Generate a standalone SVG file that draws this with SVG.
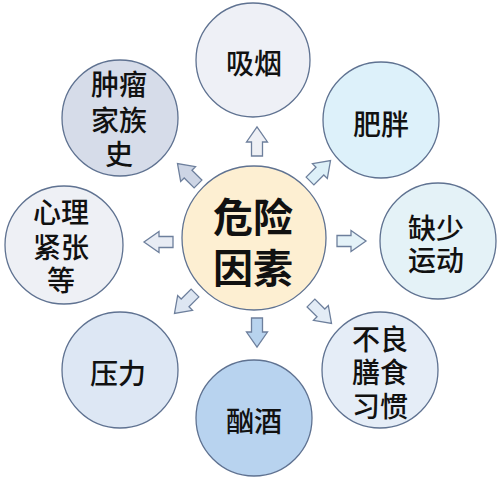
<svg xmlns="http://www.w3.org/2000/svg" width="500" height="481" viewBox="0 0 500 481">
<defs>
<style>
.n{stroke:#5f7291;stroke-width:1.3}
.a{stroke:#6d7f9c;stroke-width:1.3;stroke-linejoin:miter}
text{font-family:"Noto Sans CJK SC","Noto Sans",sans-serif;font-weight:500;fill:#111;text-anchor:middle;dominant-baseline:central;font-size:28px}
.c{font-size:40px;font-weight:600}
</style>
<path id="arr" d="M-5.5,0 L-5.5,-14 L-10.5,-14 L0,-29 L10.5,-14 L5.5,-14 L5.5,0 Z"/>
</defs>
<rect width="500" height="481" fill="#ffffff"/>
<g id="connectors">
<use href="#arr" class="a" fill="#eef0f5" transform="translate(257,156)"/>
<use href="#arr" class="a" fill="#cdd5e5" transform="translate(198,184) rotate(-45)"/>
<use href="#arr" class="a" fill="#ddf0f8" transform="translate(310,181) rotate(45)"/>
<use href="#arr" class="a" fill="#e8ecf4" transform="translate(173,242) rotate(-90)"/>
<use href="#arr" class="a" fill="#e4f2f8" transform="translate(337,241) rotate(90)"/>
<use href="#arr" class="a" fill="#dde6f2" transform="translate(195,293) rotate(-135)"/>
<use href="#arr" class="a" fill="#b8d3ee" transform="translate(257,318) rotate(180)"/>
<use href="#arr" class="a" fill="#e3ecf6" transform="translate(311,303) rotate(135)"/>
</g>
<g id="center">
<circle class="n" cx="254" cy="238" r="72" fill="#fdefd2"/>
<text class="c" x="253" y="215">危险<tspan x="253" y="266">因素</tspan></text>
</g>
<g id="smoking">
<circle class="n" cx="253" cy="60" r="57" fill="#eef0f6"/>
<text x="254" y="62">吸烟</text>
</g>
<g id="family">
<circle class="n" cx="120" cy="118" r="58" fill="#d6dce9"/>
<text x="119" y="83">肿瘤<tspan x="119" y="119">家族</tspan><tspan x="119" y="153">史</tspan></text>
</g>
<g id="obesity">
<circle class="n" cx="381" cy="120" r="58" fill="#ddf1fa"/>
<text x="381" y="123">肥胖</text>
</g>
<g id="psych">
<circle class="n" cx="64" cy="245" r="59" fill="#eef0f5"/>
<text x="61" y="211">心理<tspan x="61" y="246">紧张</tspan><tspan x="61" y="279">等</tspan></text>
</g>
<g id="exercise">
<circle class="n" cx="438" cy="241" r="58" fill="#e4f2f7"/>
<text x="436" y="227">缺少<tspan x="436" y="259">运动</tspan></text>
</g>
<g id="stress">
<circle class="n" cx="120" cy="370" r="58" fill="#dde7f4"/>
<text x="118" y="372">压力</text>
</g>
<g id="alcohol">
<circle class="n" cx="254" cy="418" r="58" fill="#b8d3ef"/>
<text x="254" y="420">酗酒</text>
</g>
<g id="diet">
<circle class="n" cx="380" cy="370" r="58" fill="#e5edf7"/>
<text x="380" y="338">不良<tspan x="380" y="371">膳食</tspan><tspan x="380" y="405">习惯</tspan></text>
</g>
</svg>
